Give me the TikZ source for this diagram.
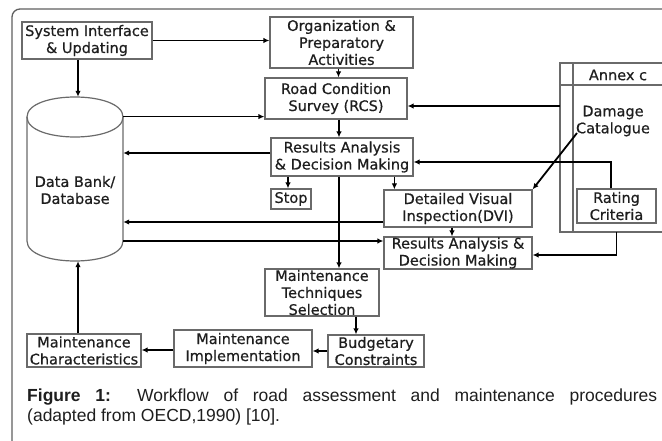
\documentclass[tikz,border=0pt]{standalone}
\usepackage{fontspec}
\setmainfont{DejaVu Sans}[FakeBold=0.6]
\newfontfamily\capfont{Liberation Sans}
\usetikzlibrary{arrows.meta,calc}
\definecolor{boxgray}{HTML}{6A6A6A}
\definecolor{framegray}{HTML}{606060}
\definecolor{txt}{HTML}{1E1E1E}
\newcommand\bxf{\fontsize{14.5pt}{17pt}\selectfont}
\newcommand\cpf{\capfont\fontsize{17.5pt}{20pt}\selectfont}
\begin{document}
\begin{tikzpicture}[x=1pt,y=-1pt,
  box/.style={draw=boxgray, line width=1.2pt, inner sep=0pt, align=center, font=\bxf, text=txt},
  plain/.style={inner sep=0pt, align=center, font=\bxf, text=txt},
  arr/.style={draw=black, line width=1.8pt, -{Latex[length=6pt,width=5.5pt]}},
  ln/.style={draw=boxgray, line width=1.2pt},
  frame/.style={draw=framegray, line width=1.3pt, rounded corners=8pt}]
\useasboundingbox (0,0) rectangle (662,441);
% outer frame
\draw[frame] (12,445) -- (12,9) -- (670,9);
% boxes
\node[box, minimum width=130, minimum height=37] (sys) at (87,40.5) {System Interface\\\& Updating};
\node[box, minimum width=143, minimum height=51] (org) at (341.5,42.5) {Organization \&\\Preparatory\\Activities};
\node[box, minimum width=142, minimum height=41] (rcs) at (336,98.5) {Road Condition\\Survey (RCS)};
\node[box, minimum width=142, minimum height=38] (ra1) at (342,157) {Results Analysis\\\& Decision Making};
\node[box, minimum width=40, minimum height=20] (stop) at (291,199) {Stop};
\node[box, minimum width=148, minimum height=37] (dvi) at (458,208.5) {Detailed Visual\\Inspection(DVI)};
\node[box, minimum width=148, minimum height=32] (ra2) at (458,253) {Results Analysis \&\\Decision Making};
\node[box, minimum width=114, minimum height=47] (mts) at (322,292.5) {Maintenance\\Techniques\\Selection};
\node[box, minimum width=96, minimum height=32] (bud) at (376,351) {Budgetary\\Constraints};
\node[box, minimum width=138, minimum height=37] (impl) at (243,348.5) {Maintenance\\Implementation};
\node[box, minimum width=114, minimum height=33] (char) at (84,350.5) {Maintenance\\Characteristics};
\node[box, minimum width=79, minimum height=34] (rate) at (616.5,206) {Rating\\Criteria};
% database cylinder
\node[inner sep=0pt, minimum width=96, minimum height=164] (db) at (75,179) {};
\draw[ln] (27,117) .. controls (27,90.33) and (123,90.33) .. (123,117)
          .. controls (123,143.67) and (27,143.67) .. (27,117);
\draw[ln] (27,117) -- (27,241) .. controls (27,267.67) and (123,267.67) .. (123,241) -- (123,117);
\node[plain] (dbt) at (75,190) {Data Bank/\\Database};
% annex
\node[inner sep=0pt, minimum width=102, minimum height=169] (annex) at (611,147.5) {};
\draw[ln] (665,63) -- (560,63) -- (560,232) -- (665,232);
\draw[ln] (573,63) -- (573,232);
\draw[ln] (560,85) -- (665,85);
\node[plain] (anx) at (618,75) {Annex c};
\node[plain] (dmg) at (613,121) {Damage\\Catalogue};
\coordinate (dmgtail) at (577,133);
% connectors
\draw[arr] (sys.east) -- (sys.east -| org.west);
\draw[arr] ([xshift=3pt]db.north |- sys.south) -- ([xshift=3pt]db.north);
\coordinate (rcsin) at ([yshift=3pt]rcs.south west);
\draw[arr] (db.east |- rcsin) -- (rcsin);
\draw[arr] ([yshift=4pt]ra1.west) coordinate (d1) -- (d1 -| db.east);
\draw[arr] ([xshift=-3pt]org.south) -- ([xshift=-3pt]org.south |- rcs.north);
\draw[arr] ([xshift=3pt]rcs.south) -- ([xshift=3pt]rcs.south |- ra1.north);
\coordinate (rcsR) at ([yshift=-7.5pt]rcs.east);
\draw[arr] (annex.west |- rcsR) -- (rcsR);
\draw[arr] ([xshift=-3pt]stop.north |- ra1.south) -- ([xshift=-3pt]stop.north);
\draw[arr] ([xshift=11pt]dvi.north west |- ra1.south) -- ([xshift=11pt]dvi.north west);
\draw[arr] ([xshift=-3pt]ra1.south) -- ([xshift=-3pt]ra1.south |- mts.north);
\draw[arr] ([yshift=-13.5pt]dvi.west) coordinate (k1) -- (k1 -| db.east);
\coordinate (l1) at ([yshift=12pt]ra2.west);
\draw[arr] (l1 -| db.east) -- (l1);
\draw[arr] ([xshift=-6pt]dvi.south) -- ([xshift=-6pt]dvi.south |- ra2.north);
\draw[arr] ([xshift=-5.5pt]rate.north) |- ([yshift=-5pt]ra1.east);
\draw[arr] (dmgtail) -- (dvi.north east);
\draw[arr] (rate.north |- annex.south) |- ([yshift=-2pt]ra2.east);
\draw[arr] ([xshift=-20pt]bud.north |- mts.south) -- ([xshift=-20pt]bud.north);
\draw[arr] (bud.west) -- (bud.west -| impl.east);
\draw[arr] ([yshift=-1.5pt]impl.west) coordinate (s1) -- (s1 -| char.east);
\draw[arr] ([xshift=-6pt]char.north) -- ([xshift=-6pt]char.north |- db.south);
% caption
\node[anchor=north west, inner sep=0pt, text width=630pt, align=justify, font=\cpf, text=txt] (cap) at (27,389)
  {\textbf{Figure 1:} Workflow of road assessment and maintenance procedures\linebreak (adapted from OECD,1990) [10].};
\end{tikzpicture}
\end{document}
